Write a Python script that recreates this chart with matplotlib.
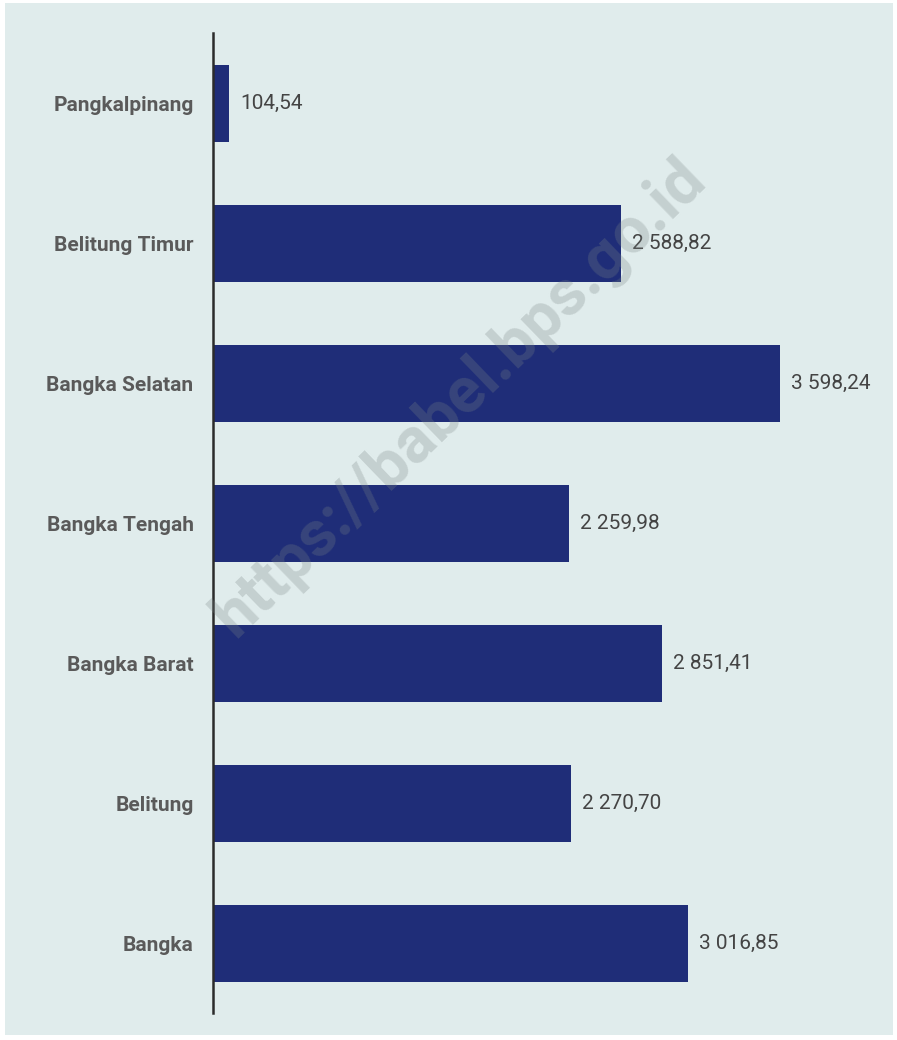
import matplotlib.pyplot as plt
from matplotlib.patches import Rectangle

#=========================#
#  data                   #
#=========================#
regions = ['Pangkalpinang', 'Belitung Timur', 'Bangka Selatan', 'Bangka Tengah',
           'Bangka Barat', 'Belitung', 'Bangka']
values = [104.54, 2588.82, 3598.24, 2259.98, 2851.41, 2270.70, 3016.85]
value_labels = ['104,54', '2 588,82', '3 598,24', '2 259,98', '2 851,41', '2 270,70', '3 016,85']

W, H = 897, 1040
bg = '#e0ecec'
bar_color = '#1f2d78'

plt.rcParams['font.family'] = ['Roboto', 'DejaVu Sans']

fig = plt.figure(figsize=(W / 100, H / 100), dpi=100, facecolor='white')

# background panel (below the axes)
fig.patches.append(Rectangle((5 / W, 5 / H), 888 / W, 1032 / H, transform=fig.transFigure,
                             facecolor=bg, edgecolor='none', zorder=-10))

# axes: left edge at the axis line, y from 33 to 1013 px
ax = fig.add_axes([213 / W, (H - 1013) / H, (W - 213) / W, 980 / H])
ax.set_facecolor('none')

px_per_unit = 567 / 3598.24
ax.set_xlim(0, (W - 213) / px_per_unit)
ax.set_ylim(len(regions) - 0.5, -0.5)

ypos = list(range(len(regions)))
ax.barh(ypos, values, height=0.55, color=bar_color, zorder=2)

for y, v, lab in zip(ypos, values, value_labels):
    ax.annotate(lab, (v, y), xytext=(8, 0), textcoords='offset points',
                ha='left', va='center', fontsize=15, color='#444444', zorder=3)

ax.set_yticks(ypos)
ax.set_yticklabels(regions, fontsize=15, fontweight='bold', color='#5a5a5a')
ax.tick_params(axis='y', length=0, pad=14)
ax.set_xticks([])

for s in ['top', 'right', 'bottom']:
    ax.spines[s].set_visible(False)
ax.spines['left'].set_color('#2b2b2b')
ax.spines['left'].set_linewidth(1.8)
ax.spines['left'].set_zorder(4)

# watermark
fig.text(460 / W, 1 - 398 / H, 'https://babel.bps.go.id', rotation=44,
         ha='center', va='center', fontsize=46, fontweight='bold',
         color='#7a8585', alpha=0.27, zorder=10)

fig.savefig('out.png', dpi=100, facecolor='white')
